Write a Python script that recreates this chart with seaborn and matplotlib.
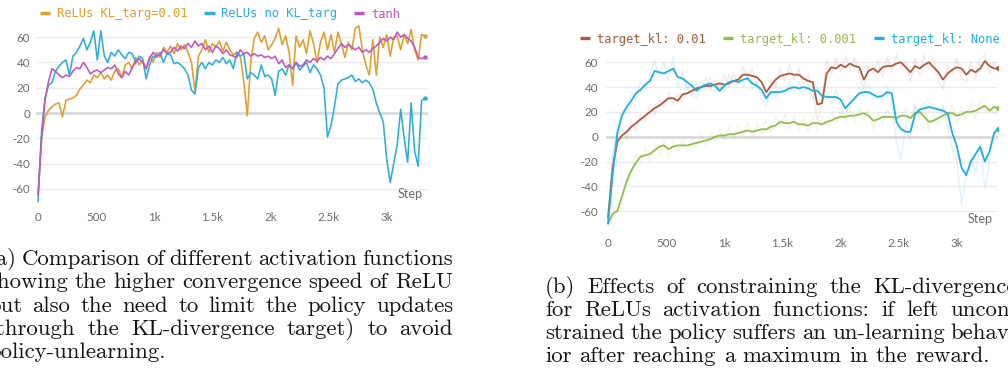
import matplotlib
matplotlib.use("Agg")
import matplotlib.pyplot as plt
from matplotlib.lines import Line2D
from matplotlib.transforms import IdentityTransform
import numpy as np
import pandas as pd
import seaborn as sns

# ------------------------------------------------------------------ data
# (a) activation functions, logged every 30 steps
steps_a = list(range(0, 3331, 30))
relu_kl = [
    -65, -20, -3, 2, 5, 7, 8, -3, 10, 11,
    12, 14, 19, 22, 26, 24, 30, 28, 32, 27,
    30, 26, 33, 35, 28, 38, 40, 35, 44, 38,
    42, 35, 45, 40, 48, 44, 52, 48, 53, 47,
    55, 50, 54, 48, 40, 17, 45, 50, 58, 48,
    55, 52, 57, 49, 56, 50, 46, 48, 45, 25,
    -2, 40, 59, 64, 56, 61, 50, 54, 59, 67,
    54, 61, 48, 22, 61, 52, 58, 47, 65, 55,
    40, 56, 64, 50, 62, 48, 64, 55, 44, 56,
    50, 67, 69, 50, 38, 30, 58, 30, 60, 52,
    62, 45, 60, 61, 50, 62, 55, 66, 50, 42,
    62, 61]
relu_nokl = [
    -70, -15, 12, 22, 24, 33, 37, 40, 42, 30,
    45, 48, 53, 59, 50, 56, 65, 42, 65, 45,
    40, 48, 45, 50, 46, 43, 48, 47, 40, 45,
    43, 27, 38, 45, 44, 48, 40, 47, 46, 39,
    40, 38, 35, 30, 18, 15, 36, 40, 35, 40,
    38, 42, 40, 44, 39, 42, 35, 48, 45, 47,
    27, 32, 30, 27, 38, 29, 30, 27, 14, 33,
    35, 30, 38, 35, 40, 34, 37, 40, 32, 38,
    35, 30, 20, -19, -10, 5, 23, 26, 27, 28,
    30, 25, 27, 24, 26, 24, 19, 8, 0, -7,
    -37, -55, -40, -25, 3, -20, -39, 8, -30, -42,
    10, 12]
tanh_act = [
    -65, -20, 10, 25, 35, 33, 30, 28, 30, 29,
    33, 36, 35, 40, 36, 31, 33, 34, 32, 34,
    36, 35, 38, 31, 28, 33, 30, 36, 40, 43,
    40, 35, 43, 48, 45, 46, 50, 47, 48, 52,
    49, 53, 51, 55, 52, 57, 53, 55, 50, 53,
    48, 53, 51, 47, 50, 46, 45, 44, 50, 47,
    48, 45, 47, 45, 46, 44, 45, 43, 45, 39,
    42, 36, 38, 35, 40, 37, 38, 42, 40, 43,
    41, 44, 42, 45, 43, 47, 51, 55, 52, 54,
    52, 50, 52, 48, 50, 48, 51, 53, 56, 59,
    57, 60, 58, 64, 60, 62, 59, 57, 52, 44,
    43, 44]
names_a = ["ReLUs KL_targ=0.01", "ReLUs no KL_targ", "tanh"]
colors_a = ["#E59E2C", "#2BAFDB", "#C653C4"]

# (b) KL target, logged every 40 steps (smoothed and raw)
steps_b = list(range(0, 3321, 40)) + [3350]
kl01_smooth = [
    -65, -25, -4, 1, 4, 8, 11, 14, 17, 20,
    23, 25, 28, 31, 31, 29, 34, 35, 37, 39,
    40, 41, 41, 42, 43, 42, 43, 45, 46, 50,
    50, 49, 48, 44, 36, 41, 46, 49, 50, 51,
    50, 50, 47, 45, 44, 26, 27, 51, 56, 55,
    58, 56, 59, 57, 56, 46, 53, 55, 52, 56,
    57, 57, 59, 60, 56, 52, 57, 55, 58, 60,
    56, 52, 46, 51, 54, 56, 55, 50, 54, 52,
    55, 61, 57, 55, 55]
kl001_smooth = [
    -70, -62, -60, -48, -36, -27, -21, -16, -15, -14,
    -11, -8, -7, -10, -8, -7, -7, -7, -6, -5,
    -4, -3, -2, 0, 1, 1, 2, 2, 3, 4,
    5, 4, 5, 6, 6, 8, 9, 12, 11, 11,
    12, 10, 10, 9, 11, 11, 10, 12, 13, 15,
    16, 16, 17, 17, 18, 19, 17, 13, 14, 16,
    16, 16, 15, 17, 17, 15, 19, 20, 16, 12,
    13, 15, 17, 19, 19, 17, 18, 20, 20, 21,
    23, 25, 21, 24, 23]
klnone_smooth = [
    -70, -30, 3, 17, 24, 29, 35, 38, 42, 45,
    53, 52, 51, 53, 55, 48, 47, 44, 41, 37,
    40, 42, 43, 41, 37, 41, 44, 45, 44, 46,
    47, 43, 41, 38, 31, 36, 36, 36, 37, 39,
    40, 39, 40, 39, 37, 37, 33, 32, 32, 32,
    30, 23, 27, 31, 35, 36, 36, 34, 32, 33,
    36, 35, 12, 6, 4, 4, 18, 22, 23, 24,
    23, 22, 21, 19, 3, -8, -25, -31, -20, -14,
    -8, -20, -12, 3, 6]
kl01_raw = [
    -65, -15, 0, 6, -2, 12, 5, 18, 12, 26,
    18, 30, 24, 36, 26, 34, 28, 42, 32, 44,
    36, 48, 38, 46, 38, 50, 40, 52, 42, 56,
    46, 55, 42, 35, 30, 46, 40, 55, 45, 58,
    46, 55, 42, 50, 38, 12, 30, 62, 50, 63,
    52, 65, 54, 64, 50, 38, 58, 50, 62, 48,
    64, 52, 66, 55, 62, 44, 63, 50, 66, 54,
    64, 45, 38, 58, 50, 63, 48, 44, 60, 46,
    62, 66, 50, 60, 55]
kl001_raw = [
    -72, -64, -55, -58, -30, -32, -14, -22, -8, -20,
    -5, -14, -2, -18, -4, -12, -2, -12, 0, -10,
    2, -8, 4, -4, 6, -3, 8, -2, 10, 0,
    12, -1, 11, 2, 14, 4, 16, 8, 18, 6,
    17, 4, 15, 3, 16, 5, 17, 8, 20, 10,
    22, 12, 23, 11, 24, 14, 22, 6, 19, 10,
    22, 12, 20, 11, 24, 9, 26, 14, 22, 5,
    18, 10, 24, 14, 26, 10, 24, 14, 28, 15,
    30, 20, 26, 18, 23]
klnone_raw = [
    -70, -15, 10, 22, 20, 35, 30, 45, 38, 50,
    62, 48, 60, 45, 65, 40, 52, 38, 44, 30,
    46, 38, 48, 35, 44, 36, 50, 42, 48, 40,
    52, 38, 44, 30, 24, 42, 32, 40, 33, 44,
    36, 45, 34, 42, 30, 40, 28, 36, 26, 38,
    25, 15, 32, 28, 40, 32, 42, 30, 36, 28,
    40, 30, -5, -18, 10, -2, 25, 18, 28, 20,
    27, 18, 24, 8, -10, -20, -55, -30, -15, -30,
    -5, -42, -20, 8, 6]
names_b = ["target_kl: 0.01", "target_kl: 0.001", "target_kl: None"]
colors_b = ["#AE5A41", "#94BD4F", "#1FB0E2"]

xtick_vals = [0, 500, 1000, 1500, 2000, 2500, 3000]
xtick_labels = ["0", "500", "1k", "1.5k", "2k", "2.5k", "3k"]
ytick_vals = [-60, -40, -20, 0, 20, 40, 60]
ytick_labels = ["-60", "-40", "-20", "0", "20", "40", "60"]

caption_a = ["(a) Comparison of different activation functions",
             "showing the higher convergence speed of ReLU",
             "but also the need to limit the policy updates",
             "(through the KL-divergence target) to avoid",
             "policy-unlearning."]
caption_b = ["(b) Effects of constraining the KL-divergence",
             "for ReLUs activation functions: if left uncon-",
             "strained the policy suffers an un-learning behav-",
             "ior after reaching a maximum in the reward."]

# ------------------------------------------------------------------ style
sns.set_theme(style="white")
plt.rcParams["font.family"] = ["Lato", "DejaVu Sans"]
plt.rcParams["axes.unicode_minus"] = False

W, H = 1008, 375
fig = plt.figure(figsize=(W / 100, H / 100), dpi=100)
fig.patch.set_facecolor("white")


def px_axes(l, t, r, b):
    return fig.add_axes([l / W, 1 - b / H, (r - l) / W, (b - t) / H])


axA = px_axes(36.3, 22, 428, 204)
axB = px_axes(606.3, 47.4, 998.2, 231)

GRAY = "#6c6c74"


def style(ax, ylim, xpad, ypad, step_y):
    ax.set_xlim(-15, 3355)
    ax.set_ylim(*ylim)
    ax.set_xticks(xtick_vals)
    ax.set_xticklabels(xtick_labels)
    ax.set_yticks(ytick_vals)
    ax.set_yticklabels(ytick_labels)
    for s in ax.spines.values():
        s.set_visible(False)
    ax.grid(False)
    ax.yaxis.grid(True, color="#ededed", linewidth=1)
    ax.set_axisbelow(True)
    for loc, gl in zip(ax.get_yticks(), ax.get_ygridlines()):
        if loc == 0:
            gl.set_color("#dadada")
            gl.set_linewidth(2)
    ax.tick_params(axis="x", direction="in", length=5.5, width=0.9,
                   color="#d6d6d6", pad=xpad, labelsize=8.3, labelcolor=GRAY)
    ax.tick_params(axis="y", length=0, pad=ypad, labelsize=8.3, labelcolor=GRAY)
    ax.set_xlabel("")
    ax.set_ylabel("")
    ax.text(0.987, step_y, "Step", transform=ax.transAxes, ha="right",
            va="center", fontsize=9.2, color=GRAY)
    ax.set_facecolor("white")


# ---- panel (a)
dfA = pd.concat([pd.DataFrame({"step": steps_a, "value": v, "run": n})
                 for n, v in zip(names_a, [relu_kl, relu_nokl, tanh_act])],
                ignore_index=True)
sns.lineplot(data=dfA, x="step", y="value", hue="run", hue_order=names_a,
             palette=colors_a, linewidth=1.15, estimator=None, errorbar=None,
             legend=False, ax=axA)
for v, c in zip([relu_kl, relu_nokl, tanh_act], colors_a):
    axA.scatter([steps_a[-1]], [v[-1]], s=10, color=c, zorder=5, linewidths=0)
style(axA, (-72, 72), 5.6, 4.4, 0.055)

# ---- panel (b)
dfBraw = pd.concat([pd.DataFrame({"step": steps_b, "value": v, "run": n})
                    for n, v in zip(names_b, [kl01_raw, kl001_raw, klnone_raw])],
                   ignore_index=True)
dfB = pd.concat([pd.DataFrame({"step": steps_b, "value": v, "run": n})
                 for n, v in zip(names_b, [kl01_smooth, kl001_smooth, klnone_smooth])],
                ignore_index=True)
sns.lineplot(data=dfBraw, x="step", y="value", hue="run", hue_order=names_b,
             palette=colors_b, linewidth=1.0, alpha=0.13, estimator=None,
             errorbar=None, legend=False, ax=axB)
sns.lineplot(data=dfB, x="step", y="value", hue="run", hue_order=names_b,
             palette=colors_b, linewidth=1.3, estimator=None, errorbar=None,
             legend=False, ax=axB)
for v, c in zip([kl01_smooth, kl001_smooth, klnone_smooth], colors_b):
    axB.scatter([steps_b[-1]], [v[-1]], s=12, color=c, zorder=5, linewidths=0)
style(axB, (-76, 72), 5.0, 6.0, 0.065)

# ---- legends
mono = {"family": ["DejaVu Sans Mono"], "size": 8.7}


def legend(ax, names, colors, x_px, y_px, colsp):
    handles = [Line2D([], [], color=c, linewidth=2.4, solid_capstyle="butt")
               for c in colors]
    leg = ax.legend(handles, names, ncol=3, loc="center left",
                    bbox_to_anchor=(x_px / W, 1 - y_px / H),
                    bbox_transform=fig.transFigure, frameon=False,
                    prop=mono, handlelength=0.85, handletextpad=0.55,
                    columnspacing=colsp, borderpad=0, borderaxespad=0,
                    labelcolor=colors)
    return leg


legend(axA, names_a, colors_a, 40, 14, 1.4)
legend(axB, names_b, colors_b, 580, 39, 1.45)

# ---- captions (justified serif text)
renderer = fig.canvas.get_renderer()
CAP_FS = 16.4


def caption_line(text, x0, x1, base_y, justify):
    words = text.split(" ")
    arts = [fig.text(0, 0, w, transform=IdentityTransform(), fontfamily="cmr10",
                     fontsize=CAP_FS, color="#141414", va="baseline", ha="left")
            for w in words]
    widths = [a.get_window_extent(renderer).width for a in arts]
    if justify and len(words) > 1:
        gap = (x1 - x0 - sum(widths)) / (len(words) - 1)
    else:
        gap = 0.333 * CAP_FS * 100 / 72
    x = x0
    for a, w in zip(arts, widths):
        a.set_position((x, H - base_y))
        x += w + gap


for i, (line, by) in enumerate(zip(caption_a, [265, 288, 312, 335, 358])):
    caption_line(line, -12, 453, by, i < len(caption_a) - 1)
for i, (line, by) in enumerate(zip(caption_b, [293, 316, 339, 362])):
    caption_line(line, 545, 1017, by, i < len(caption_b) - 1)

fig.savefig("out.png", dpi=100, facecolor="white")
